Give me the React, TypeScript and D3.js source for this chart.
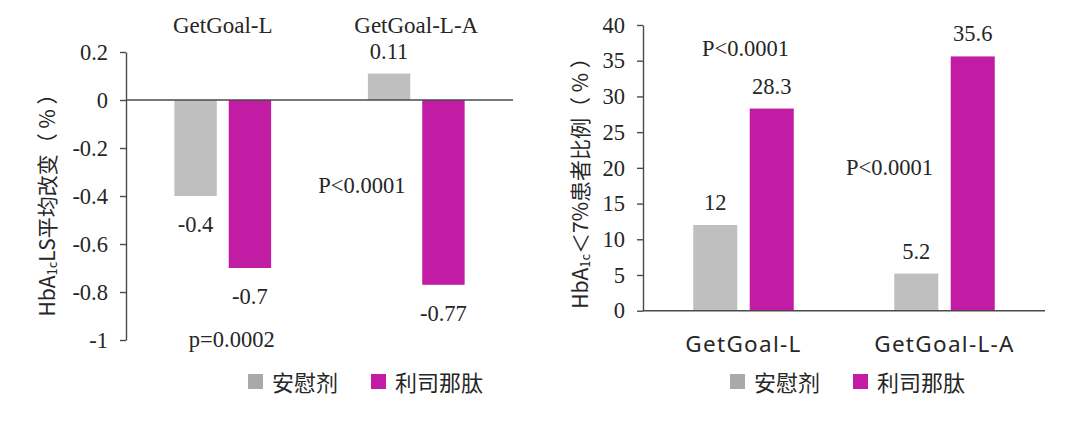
import * as d3 from "d3";
import { useEffect, useRef } from "react";

// studies and treatment arms
const studies = ["GetGoal-L", "GetGoal-L-A"];
const arms = ["安慰剂", "利司那肽"];
const armColors = ["#bfbfbf", "#c21ca4"];
const legendColors = ["#a9a9a9", "#c21ca4"];

// left panel: HbA1c LS mean change (%)
const changePlacebo = [-0.4, 0.11];
const changeLixi = [-0.7, -0.77];
const changeTicks = [0.2, 0, -0.2, -0.4, -0.6, -0.8, -1];
const changePText = ["p=0.0002", "P<0.0001"];

// right panel: patients reaching HbA1c < 7% (%)
const goalPlacebo = [12, 5.2];
const goalLixi = [28.3, 35.6];
const goalTicks = [0, 5, 10, 15, 20, 25, 30, 35, 40];
const goalPText = ["P<0.0001", "P<0.0001"];

const W = 1080;
const H = 421;
const serif = "'Liberation Serif', 'Times New Roman', serif";
const cjk = "'Noto Sans CJK SC', 'Noto Sans', sans-serif";
const ink = "#262626";
const axisColor = "#4a4a4a";

const YAxis = ({ scale, ticks, x }) => {
  const ref = useRef(null);
  useEffect(() => {
    const axis = d3
      .axisLeft(scale)
      .tickValues(ticks)
      .tickSize(6)
      .tickSizeOuter(0)
      .tickPadding(12)
      .tickFormat((d) => String(d));
    const g = d3.select(ref.current);
    g.call(axis);
    g.select(".domain").attr("stroke", axisColor).attr("stroke-width", 1.4);
    g.selectAll(".tick line").attr("stroke", axisColor).attr("stroke-width", 1.4);
    g.selectAll(".tick text")
      .attr("fill", ink)
      .attr("font-family", serif)
      .attr("font-size", 22.5);
  }, [scale, ticks]);
  return <g ref={ref} transform={`translate(${x},0)`} />;
};

const Legend = ({ x, y }) => (
  <g transform={`translate(${x},${y})`}>
    {arms.map((a, i) => (
      <g key={a} transform={`translate(${i * 123},0)`}>
        <rect x={0} y={0} width={15} height={15} fill={legendColors[i]} />
        <text x={24} y={17} fontFamily={cjk} fontSize={22} fill={ink}>
          {a}
        </text>
      </g>
    ))}
  </g>
);

const Bars = ({ x0, x1, y, values }) => (
  <>
    {studies.map((s, si) =>
      values.map((series, ai) => {
        const v = series[si];
        const bx = x0(s) + x1(arms[ai]);
        const top = Math.min(y(v), y(0));
        return (
          <g key={s + ai}>
            <rect
              x={bx}
              y={top}
              width={x1.bandwidth()}
              height={Math.abs(y(v) - y(0))}
              fill={armColors[ai]}
            />
            <text
              x={bx + x1.bandwidth() / 2}
              y={v >= 0 ? y(v) - 15 : y(v) + 36}
              textAnchor="middle"
              fontFamily={serif}
              fontSize={22.5}
              fill={ink}
            >
              {v}
            </text>
          </g>
        );
      })
    )}
  </>
);

const ChangeChart = () => {
  const x0 = d3.scaleBand().domain(studies).range([126, 513]).paddingInner(0.5).paddingOuter(0.25);
  const x1 = d3.scaleBand().domain(arms).range([0, x0.bandwidth()]).paddingInner(0.22);
  const y = d3.scaleLinear().domain([-1, 0.2]).range([340, 52]);
  const mid = (s) => x0(s) + x0.bandwidth() / 2;
  return (
    <g>
      {studies.map((s) => (
        <text key={s} x={mid(s)} y={33} textAnchor="middle" fontFamily={serif} fontSize={23} fill={ink}>
          {s}
        </text>
      ))}
      <Bars x0={x0} x1={x1} y={y} values={[changePlacebo, changeLixi]} />
      <line x1={126} x2={513} y1={y(0)} y2={y(0)} stroke={axisColor} strokeWidth={1.4} />
      <YAxis scale={y} ticks={changeTicks} x={126} />
      <text x={mid(studies[0]) + 9} y={y(-1) + 7} textAnchor="middle" fontFamily={serif} fontSize={22.5} fill={ink}>
        {changePText[0]}
      </text>
      <text x={x0(studies[1]) - 6} y={y(-0.4) - 3} textAnchor="middle" fontFamily={serif} fontSize={22.5} fill={ink}>
        {changePText[1]}
      </text>
      <text
        transform="translate(46,200) rotate(-90)"
        textAnchor="middle"
        dominantBaseline="central"
        fontFamily={cjk}
        fontSize={21}
        fill={ink}
      >
        HbA
        <tspan fontSize={13} dy={5}>
          1c
        </tspan>
        <tspan dy={-5}>LS平均改变（ % ）</tspan>
      </text>
      <Legend x={248} y={374} />
    </g>
  );
};

const GoalChart = () => {
  const x0 = d3.scaleBand().domain(studies).range([643, 1045]).paddingInner(0.5).paddingOuter(0.25);
  const x1 = d3.scaleBand().domain(arms).range([0, x0.bandwidth()]).paddingInner(0.22);
  const y = d3.scaleLinear().domain([0, 40]).range([310.7, 25]);
  const mid = (s) => x0(s) + x0.bandwidth() / 2;
  return (
    <g>
      <Bars x0={x0} x1={x1} y={y} values={[goalPlacebo, goalLixi]} />
      <line x1={643} x2={1045} y1={y(0)} y2={y(0)} stroke={axisColor} strokeWidth={1.4} />
      <YAxis scale={y} ticks={goalTicks} x={643} />
      {studies.map((s) => (
        <text
          key={s}
          x={mid(s)}
          y={352}
          textAnchor="middle"
          fontFamily="'Noto Sans', sans-serif"
          fontSize={22.5}
          letterSpacing={1.3}
          fill={ink}
        >
          {s}
        </text>
      ))}
      <text x={mid(studies[0]) + 2} y={y(35) - 5} textAnchor="middle" fontFamily={serif} fontSize={22.5} fill={ink}>
        {goalPText[0]}
      </text>
      <text x={mid(studies[1]) - 55} y={y(19)} textAnchor="middle" fontFamily={serif} fontSize={22.5} fill={ink}>
        {goalPText[1]}
      </text>
      <text
        transform="translate(579,178) rotate(-90)"
        textAnchor="middle"
        dominantBaseline="central"
        fontFamily={cjk}
        fontSize={21}
        fill={ink}
      >
        HbA
        <tspan fontSize={13} dy={5}>
          1c
        </tspan>
        <tspan dy={-5}>＜7%患者比例（ % ）</tspan>
      </text>
      <Legend x={730} y={374} />
    </g>
  );
};

export default function App() {
  return (
    <svg
      width={W}
      height={H}
      viewBox={`0 0 ${W} ${H}`}
      style={{ position: "absolute", left: 0, top: 0, background: "#ffffff" }}
    >
      <ChangeChart />
      <GoalChart />
    </svg>
  );
}
